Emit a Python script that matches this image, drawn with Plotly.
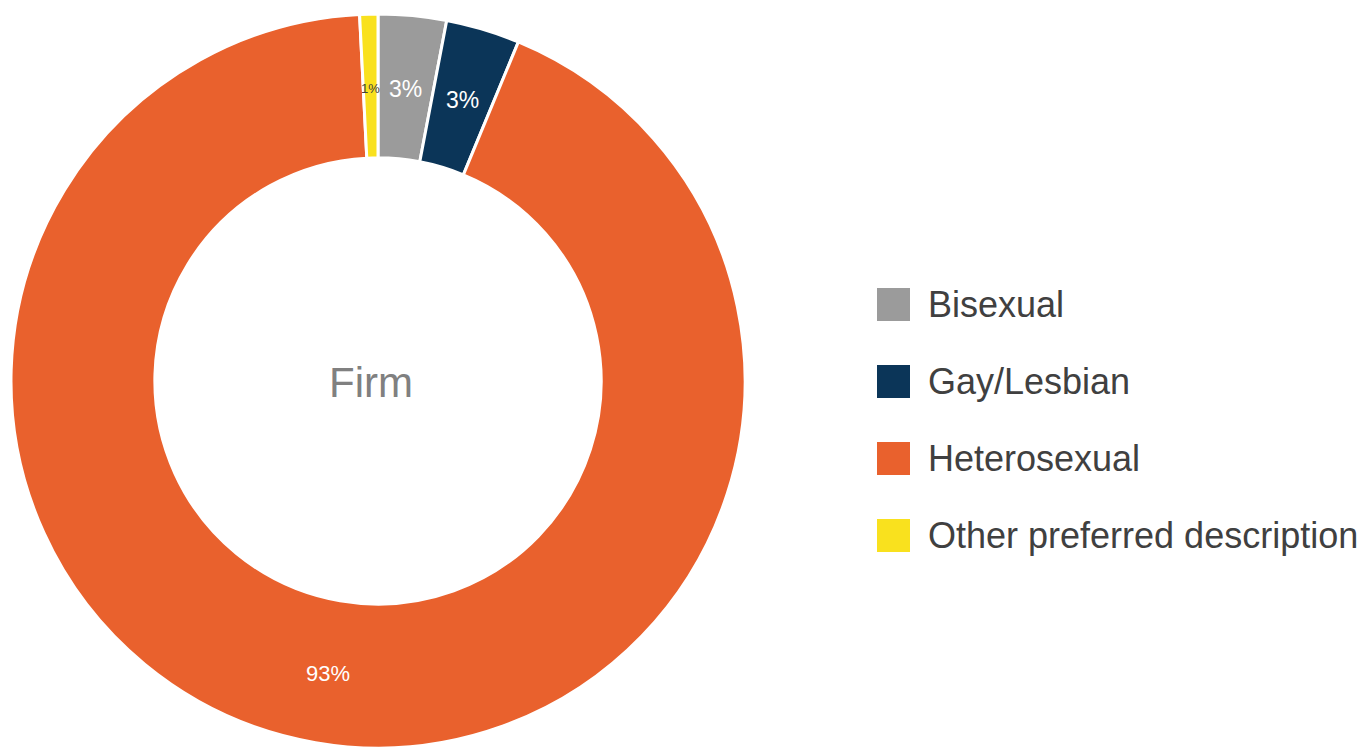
import math
import plotly.graph_objects as go

labels = ["Bisexual", "Gay/Lesbian", "Heterosexual", "Other preferred description"]
values = [3.0, 3.25, 93.0, 0.8]
colors = ["#9b9b9b", "#0b3558", "#e9612d", "#f9e11e"]
text_colors = ["white", "white", "white", "#404040"]
text_sizes = [23, 23, 22, 13]
center_label = "Firm"

W, H = 1368, 747
OFF = 8  # page body margin

# pie geometry (figure pixels)
cx, cy = 378 - OFF, 381 - OFF
r_out = 367
hole = 0.608
r_mid = r_out * (1 + hole) / 2

fig = go.Figure()
fig.add_trace(go.Pie(
    labels=labels,
    values=values,
    hole=hole,
    sort=False,
    direction="clockwise",
    rotation=0,
    marker=dict(colors=colors, line=dict(color="white", width=3)),
    textinfo="none",
    domain=dict(x=[(cx - r_out) / W, (cx + r_out) / W],
                y=[1 - (cy + r_out) / H, 1 - (cy - r_out) / H]),
    showlegend=False,
    hoverinfo="label+percent",
))

shapes = []
annotations = []

# slice labels at mid-ring, mid-angle
total = sum(values)
cum = 0.0
for v, tc, ts in zip(values, text_colors, text_sizes):
    mid = (cum + v / 2) / total
    cum += v
    th = 2 * math.pi * mid
    px = cx + r_mid * math.sin(th)
    py = cy - r_mid * math.cos(th) + 2
    annotations.append(dict(xref="paper", yref="paper", x=px / W, y=1 - py / H,
                            xanchor="center", yanchor="middle", showarrow=False,
                            text=f"{round(v / total * 100)}%",
                            font=dict(size=ts, color=tc, family="Liberation Sans, Arial")))

# custom legend
sq = 33
x0 = 877 - OFF
yc0 = 304.5 - OFF
step = 77
for i, (lab, col) in enumerate(zip(labels, colors)):
    yc = yc0 + i * step
    shapes.append(dict(type="rect", xref="paper", yref="paper",
                       x0=x0 / W, x1=(x0 + sq) / W,
                       y0=1 - (yc + sq / 2) / H, y1=1 - (yc - sq / 2) / H,
                       fillcolor=col, line=dict(width=0)))
    annotations.append(dict(xref="paper", yref="paper", x=(926 - OFF) / W, y=1 - yc / H,
                            xanchor="left", yanchor="middle", showarrow=False,
                            text=lab, font=dict(size=36, color="#404040",
                                                family="Liberation Sans, Arial")))

annotations.append(dict(xref="paper", yref="paper", x=(370.5 - OFF) / W, y=1 - 374 / H,
                        xanchor="center", yanchor="middle", showarrow=False,
                        text=center_label,
                        font=dict(size=42, color="#808080", family="Liberation Sans, Arial")))

fig.update_layout(
    width=W, height=H,
    margin=dict(l=0, r=0, t=0, b=0),
    paper_bgcolor="white", plot_bgcolor="white",
    shapes=shapes, annotations=annotations,
    showlegend=False,
)

fig.write_html("out.html")
